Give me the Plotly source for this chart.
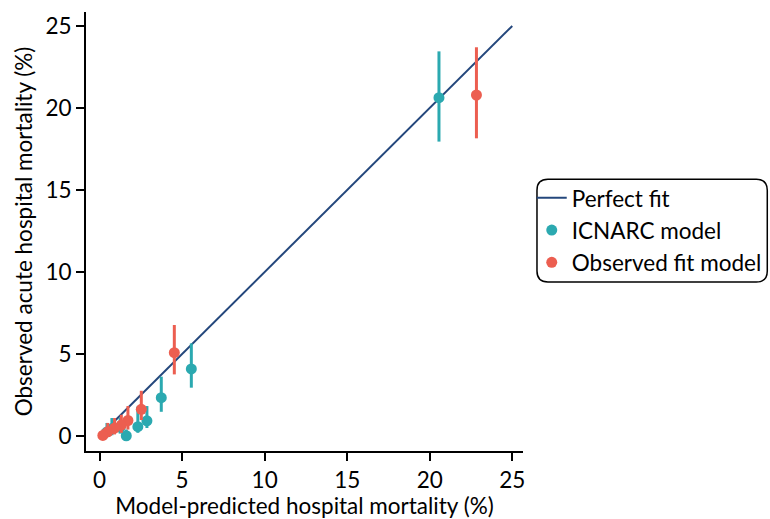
import plotly.graph_objects as pg
import numpy as np

# perfect fit reference line
fit_x = [0, 25]
fit_y = [0, 25]

# ICNARC model: predicted vs observed (%), with 95% CI
icnarc_pred = [20.56, 5.56, 3.74, 2.87, 2.32, 1.62, 1.25, 0.75, 0.45]
icnarc_obs = [20.63, 4.09, 2.34, 0.93, 0.57, 0.02, 0.55, 0.45, 0.25]
icnarc_lo = [17.95, 2.95, 1.48, 0.49, 0.20, 0.00, 0.15, 0.05, 0.00]
icnarc_hi = [23.45, 5.65, 3.62, 1.83, 1.80, 0.40, 1.10, 1.10, 0.80]

# Observed fit model
obsfit_pred = [22.83, 4.53, 2.53, 1.72, 1.32, 0.91, 0.50, 0.20]
obsfit_obs = [20.79, 5.08, 1.63, 0.95, 0.67, 0.49, 0.26, 0.04]
obsfit_lo = [18.15, 3.76, 0.98, 0.40, 0.20, 0.10, 0.00, 0.00]
obsfit_hi = [23.70, 6.77, 2.76, 1.83, 1.30, 1.10, 0.80, 0.40]

ticks = [0, 5, 10, 15, 20, 25]

TEAL = "#2BA9B0"
RED = "#EC5E50"
NAVY = "#24477C"
FONT = "Lato"
FS = 22.5


def ci_trace(x, y, lo, hi, name, color):
    y = np.array(y)
    return pg.Scatter(x=x, y=y, mode="markers", name=name,
                      marker=dict(color=color, size=11, line=dict(width=0)),
                      error_y=dict(type="data", symmetric=False,
                                   array=np.array(hi) - y,
                                   arrayminus=y - np.array(lo),
                                   color=color, thickness=3, width=0))


fig = pg.Figure()
fig.add_trace(pg.Scatter(x=fit_x, y=fit_y, mode="lines", name="Perfect fit",
                         line=dict(color=NAVY, width=2)))
fig.add_trace(ci_trace(icnarc_pred, icnarc_obs, icnarc_lo, icnarc_hi, "ICNARC model", TEAL))
fig.add_trace(ci_trace(obsfit_pred, obsfit_obs, obsfit_lo, obsfit_hi, "Observed fit model", RED))

axis_common = dict(showgrid=False, zeroline=False, showline=True, linecolor="black",
                   linewidth=2, ticks="outside", ticklen=8, tickwidth=1.5,
                   tickcolor="black", tickvals=ticks, automargin=False,
                   tickfont=dict(family=FONT, size=FS, color="black"),
                   title_font=dict(family=FONT, size=FS, color="black"))

fig.update_xaxes(range=[-0.82, 25.65], title_text="Model-predicted hospital mortality (%)",
                 title_standoff=6, **axis_common)
fig.update_yaxes(range=[-0.91, 25.85], title_text="Observed acute hospital mortality (%)",
                 title_standoff=7, **axis_common)

fig.update_layout(width=770, height=519,
                  margin=dict(l=86, r=247, t=12, b=68, autoexpand=False),
                  plot_bgcolor="white", paper_bgcolor="white",
                  font=dict(family=FONT, size=FS, color="black"),
                  showlegend=True,
                  legend=dict(x=1.02, y=0.503, xanchor="left", yanchor="middle",
                              bgcolor="rgba(0,0,0,0)", borderwidth=0,
                              font=dict(family=FONT, size=FS, color="black"),
                              itemwidth=30, tracegroupgap=0))

# rounded legend frame
x0, x1, y0, y1, r = 1.032, 1.559, 0.385, 0.619, 0.025
ry = r * 436.5 / 439
path = (f"M {x0 + r},{y0} L {x1 - r},{y0} Q {x1},{y0} {x1},{y0 + ry} "
        f"L {x1},{y1 - ry} Q {x1},{y1} {x1 - r},{y1} L {x0 + r},{y1} "
        f"Q {x0},{y1} {x0},{y1 - ry} L {x0},{y0 + ry} Q {x0},{y0} {x0 + r},{y0} Z")
fig.add_shape(type="path", path=path, xref="paper", yref="paper",
              line=dict(color="black", width=1.5))

fig.write_html("out.html", config={"displayModeBar": False},
               post_script="document.body.style.margin='0';")
